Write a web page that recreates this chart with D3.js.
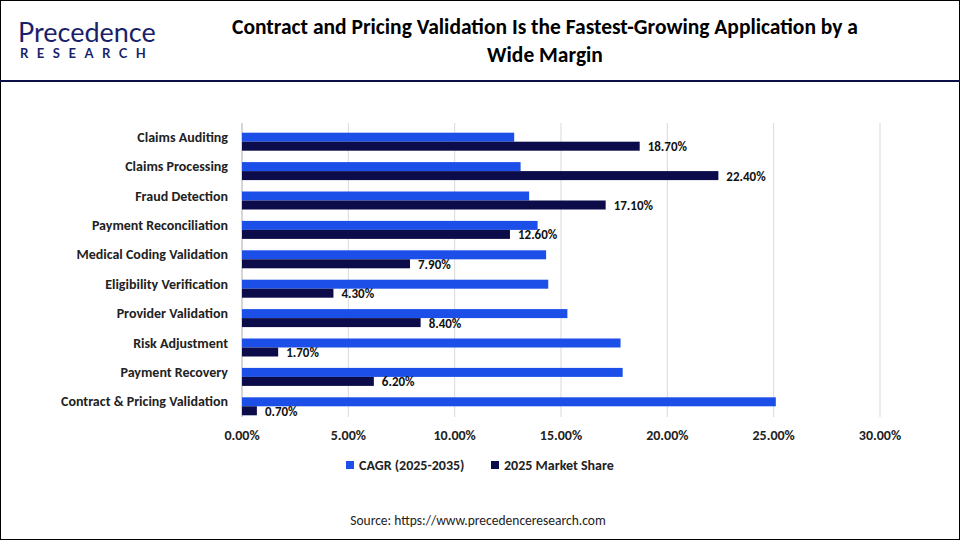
<!DOCTYPE html>
<html><head><meta charset="utf-8">
<script src="https://cdn.jsdelivr.net/npm/d3@7"></script>
<style>body{margin:0;background:#fff}svg{font-family:Calibri,Carlito,"Liberation Sans",sans-serif}</style>
</head><body><svg id="c" width="960" height="540"></svg>
<script>
// Chart data
const categories = ["Claims Auditing","Claims Processing","Fraud Detection","Payment Reconciliation",
  "Medical Coding Validation","Eligibility Verification","Provider Validation","Risk Adjustment",
  "Payment Recovery","Contract & Pricing Validation"];
const cagr = [12.8,13.1,13.5,13.9,14.3,14.4,15.3,17.8,17.9,25.1];
const share = [18.7,22.4,17.1,12.6,7.9,4.3,8.4,1.7,6.2,0.7];
const xTicks = [0,5,10,15,20,25,30];

const svg = d3.select("#c");
// frame and header
svg.append("rect").attr("x",0.5).attr("y",0.5).attr("width",959).attr("height",539)
   .attr("fill","none").attr("stroke","#000");
svg.append("line").attr("x1",0).attr("x2",960).attr("y1",81).attr("y2",81)
   .attr("stroke","#0d1046").attr("stroke-width",2);
const logo = svg.append("g");
logo.append("text").attr("x",18).attr("y",42).attr("font-size",27).attr("fill","#1a1f6b")
   .attr("font-family","Lato, sans-serif").text("Precedence");
logo.append("text").attr("x",20).attr("y",58).attr("font-size",13).attr("fill","#1a1f6b")
   .attr("font-weight","bold").attr("letter-spacing",8.5).attr("font-family","Lato, sans-serif").text("RESEARCH");
svg.append("text").attr("x",545).attr("y",34).attr("text-anchor","middle").attr("font-size",21.5)
   .attr("font-weight","bold").text("Contract and Pricing Validation Is the Fastest-Growing Application by a");
svg.append("text").attr("x",545).attr("y",62).attr("text-anchor","middle").attr("font-size",21.5)
   .attr("font-weight","bold").text("Wide Margin");

const x = d3.scaleLinear().domain([0,30]).range([242,880]);
const y = d3.scaleBand().domain(categories).range([123,417]);
const bh = 9;

const g = svg.append("g");
g.selectAll(".grid").data(xTicks).join("line")
  .attr("x1",d=>x(d)).attr("x2",d=>x(d)).attr("y1",123).attr("y2",417)
  .attr("stroke","#d9d9d9");
g.append("line").attr("x1",242).attr("x2",242).attr("y1",123).attr("y2",417).attr("stroke","#bfbfbf");

g.selectAll(".cagr").data(categories).join("rect")
  .attr("x",x(0)).attr("y",d=>y(d)+y.bandwidth()/2-bh+4)
  .attr("width",(d,i)=>x(cagr[i])-x(0)).attr("height",bh).attr("fill","#1c4fe8");
g.selectAll(".share").data(categories).join("rect")
  .attr("x",x(0)).attr("y",d=>y(d)+y.bandwidth()/2+4)
  .attr("width",(d,i)=>x(share[i])-x(0)).attr("height",bh).attr("fill","#0c0c4a");
g.selectAll(".lbl").data(categories).join("text")
  .attr("x",(d,i)=>x(share[i])+8).attr("y",d=>y(d)+y.bandwidth()/2+bh/2+9)
  .attr("font-size",13).attr("font-weight","bold").attr("fill","#111")
  .text((d,i)=>share[i].toFixed(2)+"%");
g.selectAll(".cat").data(categories).join("text")
  .attr("x",228).attr("y",d=>y(d)+y.bandwidth()/2+4).attr("text-anchor","end")
  .attr("font-size",14).attr("font-weight","bold").attr("fill","#222").text(d=>d);
g.selectAll(".tick").data(xTicks).join("text")
  .attr("x",d=>x(d)).attr("y",440).attr("text-anchor","middle")
  .attr("font-size",14).attr("font-weight","bold").attr("fill","#222").text(d=>d.toFixed(2)+"%");

// legend
const leg = [["CAGR (2025-2035)","#1c4fe8",346],["2025 Market Share","#0c0c4a",491]];
leg.forEach(l=>{
  svg.append("rect").attr("x",l[2]).attr("y",461).attr("width",8).attr("height",8).attr("fill",l[1]);
  svg.append("text").attr("x",l[2]+13).attr("y",470).attr("font-size",14).attr("font-weight","bold")
     .attr("fill","#222").text(l[0]);
});
svg.append("text").attr("x",478).attr("y",525).attr("text-anchor","middle").attr("font-size",13.5)
   .attr("fill","#222").text("Source: https://www.precedenceresearch.com");
</script></body></html>
